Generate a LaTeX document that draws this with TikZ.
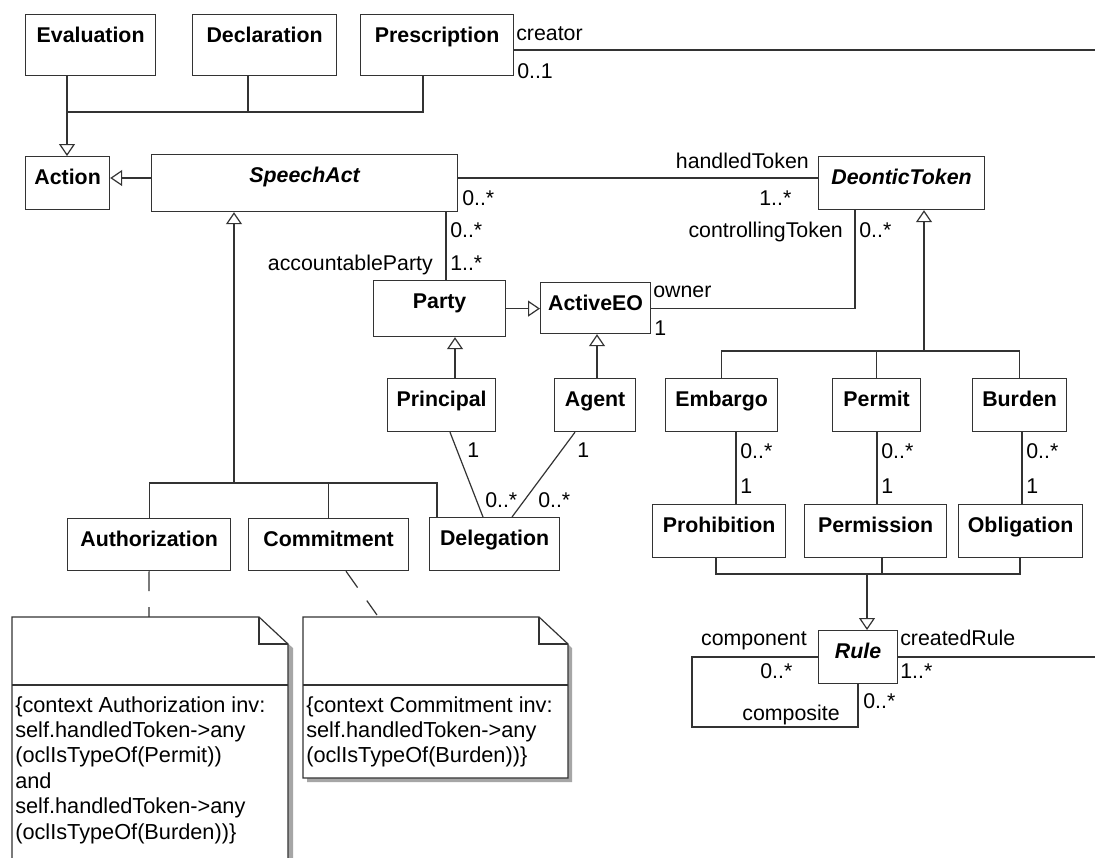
\documentclass[tikz,border=0pt]{standalone}
\usepackage{fontspec}
\setmainfont{Liberation Sans}
\usetikzlibrary{arrows.meta}
\tikzset{
  ln/.style={draw=black!80, line width=0.9pt},
  gen/.style={ln, -{Triangle[open, length=9pt, width=12pt, fill=white]}},
  cls/.style={draw=black!80, line width=0.9pt, fill=white, inner xsep=0pt, inner ysep=0pt, text height=20.625pt, font=\fontsize{16}{19}\selectfont\bfseries},
  lab/.style={inner sep=0pt, font=\fontsize{16}{19.5}\selectfont},
  notetext/.style={inner sep=0pt, anchor=base west, font=\fontsize{16.3}{19.1}\selectfont},
  notebox/.style={draw=black!80, line width=0.9pt, fill=white},
  shadow/.style={fill=black!35},
  dep/.style={ln, dash pattern=on 15pt off 12pt}
}
\newcommand\umlclass[6]{%
  \pgfmathsetmacro\ucw{(#4-#2)*0.75}%
  \pgfmathsetmacro\ucd{(#5-#3-27.5)*0.75}%
  \node[cls, minimum width=\ucw pt, text depth=\ucd pt, anchor=north west] (#1) at (#2,#3) {#6};}
\begin{document}
\begin{tikzpicture}[x=0.75pt,y=-0.75pt]
\useasboundingbox (0,0) rectangle (1095,857);
\clip (0,0) rectangle (1095,857);
\fill[white] (0,0) rectangle (1095,857);

% classes
\umlclass{Evaluation}{25}{14}{155}{75}{Evaluation}
\umlclass{Declaration}{192}{14}{336}{75}{Declaration}
\umlclass{Prescription}{360}{14}{513}{75}{Prescription}
\umlclass{Action}{25}{156}{109}{209}{Action}
\umlclass{SpeechAct}{151}{154}{457}{211}{\itshape SpeechAct}
\umlclass{DeonticToken}{818}{156}{984}{209}{\itshape DeonticToken}
\umlclass{Party}{373}{280}{505}{336}{Party}
\umlclass{ActiveEO}{540}{282}{650}{333}{ActiveEO}
\umlclass{Principal}{387}{378}{495}{431}{Principal}
\umlclass{Agent}{554}{378}{635}{431}{Agent}
\umlclass{Embargo}{665}{378}{777}{431}{Embargo}
\umlclass{Permit}{832}{378}{920}{431}{Permit}
\umlclass{Burden}{972}{378}{1066}{431}{Burden}
\umlclass{Authorization}{67}{518}{230}{570}{Authorization}
\umlclass{Commitment}{248}{518}{408}{570}{Commitment}
\umlclass{Delegation}{429}{517}{559}{570}{Delegation}
\umlclass{Prohibition}{652}{504}{785}{557}{Prohibition}
\umlclass{Permission}{804}{504}{946}{557}{Permission}
\umlclass{Obligation}{958}{504}{1082}{557}{Obligation}
\umlclass{Rule}{818}{630}{897}{683}{\itshape Rule}

% helper coordinates
\coordinate (cr) at (1095,50);
\coordinate (ha) at (0,178);
\coordinate (j1) at (67,112);
\coordinate (xd) at (248,0);
\coordinate (xq) at (423,0);
\coordinate (j2) at (234,483);
\coordinate (xdel) at (437,0);
\coordinate (xa) at (446,0);
\coordinate (xp) at (455,0);
\coordinate (xg) at (597,0);
\coordinate (xpd) at (450,0);
\coordinate (xdp) at (483,0);
\coordinate (xag) at (575,0);
\coordinate (xda) at (512,0);
\coordinate (xc) at (855,0);
\coordinate (j3) at (924,351);
\coordinate (xe) at (736,0);
\coordinate (xpm) at (877,0);
\coordinate (xb) at (1022,0);
\coordinate (j4) at (867,574);
\coordinate (k1) at (716,574);
\coordinate (k2) at (882,574);
\coordinate (k3) at (1020,574);
\coordinate (cr2) at (1095,657);
\coordinate (lp1) at (692,657);
\coordinate (lp2) at (858,727);
\coordinate (n1) at (149,617);
\coordinate (n2) at (377,615);
\coordinate (xcm) at (346,0);

% connectors
\draw[ln] (Prescription.east |- cr) -- (cr);
\draw[gen] (Evaluation.south -| j1) -- (Action.north -| j1);
\draw[ln] (Declaration.south -| xd) -- (xd |- j1);
\draw[ln] (Prescription.south -| xq) |- (j1);
\draw[gen] (SpeechAct.west |- ha) -- (Action.east |- ha);
\draw[ln] (SpeechAct.east |- ha) -- (DeonticToken.west |- ha);
\draw[gen] (j2) -- (SpeechAct.south -| j2);
\draw[ln] (Authorization.north) |- (xdel |- j2) -- (Delegation.north -| xdel);
\draw[ln] (Commitment.north) -- (Commitment.north |- j2);
\draw[ln] (SpeechAct.south -| xa) -- (Party.north -| xa);
\draw[gen] (Party.east) -- (Party.east -| ActiveEO.west);
\draw[gen] (Principal.north -| xp) -- (Party.south -| xp);
\draw[gen] (Agent.north -| xg) -- (ActiveEO.south -| xg);
\draw[ln] (Principal.south -| xpd) -- (Delegation.north -| xdp);
\draw[ln] (Agent.south -| xag) -- (Delegation.north -| xda);
\draw[ln] (DeonticToken.south -| xc) |- (ActiveEO.east);
\draw[gen] (j3) -- (DeonticToken.south -| j3);
\draw[ln] (Embargo.north) |- (Burden.north |- j3) -- (Burden.north);
\draw[ln] (Permit.north) -- (Permit.north |- j3);
\draw[ln] (Embargo.south -| xe) -- (Prohibition.north -| xe);
\draw[ln] (Permit.south -| xpm) -- (Permission.north -| xpm);
\draw[ln] (Burden.south -| xb) -- (Obligation.north -| xb);
\draw[ln] (Prohibition.south -| k1) -- (k1) -- (k3) -- (Obligation.south -| k3);
\draw[ln] (Permission.south -| k2) -- (k2);
\draw[gen] (j4) -- (Rule.north -| j4);
\draw[ln] (Rule.east |- cr2) -- (cr2);
\draw[ln] (Rule.west |- lp1) -- (lp1) |- (lp2) -- (Rule.south -| lp2);
\draw[dep] (Authorization.south) -- (n1);
\draw[dep] (Commitment.south -| xcm) -- (n2);

% labels
\node[lab, anchor=base west] (lcr) at (516,40) {creator};
\node[lab, anchor=base west] (lcr1) at (517,78) {0..1};
\node[lab, anchor=base west] (lsa) at (462,205) {0..*};
\node[lab, anchor=base east] (lht) at (809,168) {handledToken};
\node[lab, anchor=base west] (lht1) at (759,205) {1..*};
\node[lab, anchor=base west] (lap0) at (450,237) {0..*};
\node[lab, anchor=base west] (lap1) at (450,270) {1..*};
\node[lab, anchor=base east] (lap) at (433,270) {accountableParty};
\node[lab, anchor=base east] (lct) at (843,237) {controllingToken};
\node[lab, anchor=base west] (lct0) at (859,237) {0..*};
\node[lab, anchor=base west] (low) at (653,297) {owner};
\node[lab, anchor=base west] (low1) at (654,335) {1};
\node[lab, anchor=base west] (lpr1) at (467,457) {1};
\node[lab, anchor=base west] (lag1) at (577,457) {1};
\node[lab, anchor=base west] (lpd) at (485,507) {0..*};
\node[lab, anchor=base west] (lad) at (538,507) {0..*};
\node[lab, anchor=base west] (le0) at (740,458) {0..*};
\node[lab, anchor=base west] (le1) at (740,493) {1};
\node[lab, anchor=base west] (lp0) at (881,458) {0..*};
\node[lab, anchor=base west] (lp1) at (881,493) {1};
\node[lab, anchor=base west] (lb0) at (1026,458) {0..*};
\node[lab, anchor=base west] (lb1) at (1026,493) {1};
\node[lab, anchor=base east] (lcomp) at (807,645) {component};
\node[lab, anchor=base west] (lcrr) at (900,645) {createdRule};
\node[lab, anchor=base west] (lc0) at (760,678) {0..*};
\node[lab, anchor=base west] (lcr1b) at (900,678) {1..*};
\node[lab, anchor=base] (lcs) at (791,720) {composite};
\node[lab, anchor=base west] (lcs0) at (863,708) {0..*};

% notes
\fill[shadow] (16,621) -- (262,621) -- (293,648) -- (293,874) -- (16,874) -- cycle;
\draw[notebox] (12,617) -- (259,617) -- (288,644) -- (288,870) -- (12,870) -- cycle;
\draw[ln] (259,617) -- (259,644) -- (288,644);
\draw[ln] (12,685) -- (288,685);
\fill[shadow] (307,621) -- (543,621) -- (572,648) -- (572,782) -- (307,782) -- cycle;
\draw[notebox] (303,617) -- (539,617) -- (568,644) -- (568,778) -- (303,778) -- cycle;
\draw[ln] (539,617) -- (539,644) -- (568,644);
\draw[ln] (303,685) -- (568,685);
\node[notetext] (t1) at (15,712) {\vtop{\baselineskip=19.1pt
  \hbox{\{context Authorization inv:}
  \hbox{self.handledToken->any}
  \hbox{(oclIsTypeOf(Permit))}
  \hbox{and}
  \hbox{self.handledToken->any}
  \hbox{(oclIsTypeOf(Burden))\}}}};
\node[notetext] (t2) at (306,712) {\vtop{\baselineskip=19.1pt
  \hbox{\{context Commitment inv:}
  \hbox{self.handledToken->any}
  \hbox{(oclIsTypeOf(Burden))\}}}};
\end{tikzpicture}
\end{document}
